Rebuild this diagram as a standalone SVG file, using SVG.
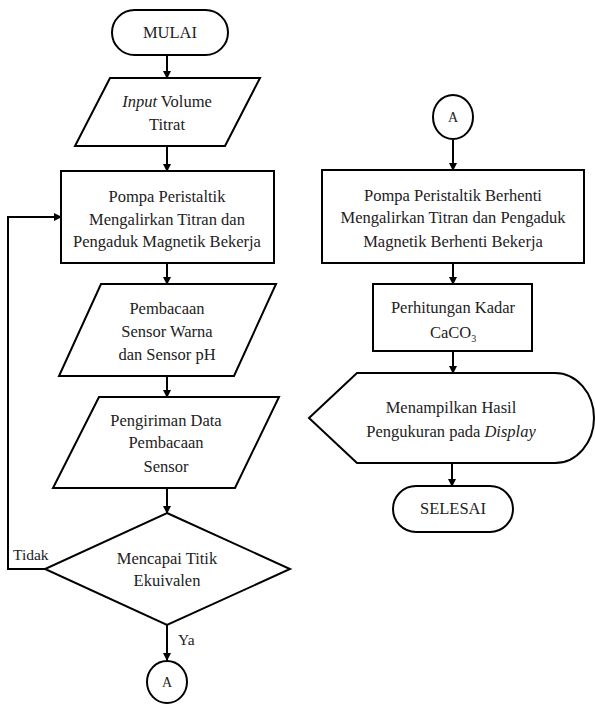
<svg xmlns="http://www.w3.org/2000/svg" width="595" height="705" viewBox="0 0 595 705">
<defs>
<marker id="ah" markerWidth="8" markerHeight="8" refX="7" refY="4" orient="auto" markerUnits="userSpaceOnUse">
<path d="M0,0 L8,4 L0,8 Z" fill="#000"/>
</marker>
</defs>
<rect width="595" height="705" fill="#fff"/>
<g id="connectors" fill="none" stroke="#000" stroke-width="2">
<line x1="167" y1="55" x2="167" y2="78" marker-end="url(#ah)"/>
<line x1="167" y1="146" x2="167" y2="171" marker-end="url(#ah)"/>
<line x1="167" y1="263" x2="167" y2="284" marker-end="url(#ah)"/>
<line x1="167" y1="376" x2="167" y2="397" marker-end="url(#ah)"/>
<line x1="167" y1="488" x2="167" y2="513" marker-end="url(#ah)"/>
<line x1="167" y1="625" x2="167" y2="660" marker-end="url(#ah)"/>
<polyline points="45,569 8,569 8,217 61,217" marker-end="url(#ah)"/>
<line x1="453" y1="140" x2="453" y2="170" marker-end="url(#ah)"/>
<line x1="453" y1="263" x2="453" y2="284" marker-end="url(#ah)"/>
<line x1="453" y1="351" x2="453" y2="373" marker-end="url(#ah)"/>
<line x1="452" y1="463" x2="452" y2="486" marker-end="url(#ah)"/>
</g>
<g id="labels">
<text font-family="Liberation Serif" font-size="15.5" fill="#222" x="13" y="560">Tidak</text>
<text font-family="Liberation Serif" font-size="15.5" fill="#222" x="178" y="645">Ya</text>
</g>
<g id="mulai">
<rect fill="#fff" stroke="#000" stroke-width="2" x="112" y="10" width="116" height="45" rx="22.5"/>
<text font-family="Liberation Serif" font-size="16.5" fill="#222" text-anchor="middle" x="170" y="38">MULAI</text>
</g>
<g id="input">
<polygon fill="#fff" stroke="#000" stroke-width="2" points="110,78 260,78 225,146 75,146"/>
<text font-family="Liberation Serif" font-size="16.5" fill="#222" text-anchor="middle" x="167" y="107"><tspan font-style="italic">Input</tspan> Volume</text>
<text font-family="Liberation Serif" font-size="16.5" fill="#222" text-anchor="middle" x="167" y="130">Titrat</text>
</g>
<g id="pompa">
<rect fill="#fff" stroke="#000" stroke-width="2" x="61" y="171" width="213" height="92"/>
<text font-family="Liberation Serif" font-size="16.5" fill="#222" text-anchor="middle" x="167" y="202">Pompa Peristaltik</text>
<text font-family="Liberation Serif" font-size="16.5" fill="#222" text-anchor="middle" x="167" y="225">Mengalirkan Titran dan</text>
<text font-family="Liberation Serif" font-size="16.5" fill="#222" text-anchor="middle" x="167" y="247">Pengaduk Magnetik Bekerja</text>
</g>
<g id="baca">
<polygon fill="#fff" stroke="#000" stroke-width="2" points="101,284 276,284 234,376 59,376"/>
<text font-family="Liberation Serif" font-size="16.5" fill="#222" text-anchor="middle" x="167" y="314">Pembacaan</text>
<text font-family="Liberation Serif" font-size="16.5" fill="#222" text-anchor="middle" x="167" y="337">Sensor Warna</text>
<text font-family="Liberation Serif" font-size="16.5" fill="#222" text-anchor="middle" x="167" y="360">dan Sensor pH</text>
</g>
<g id="kirim">
<polygon fill="#fff" stroke="#000" stroke-width="2" points="99,397 279,397 235,488 53,488"/>
<text font-family="Liberation Serif" font-size="16.5" fill="#222" text-anchor="middle" x="166" y="426">Pengiriman Data</text>
<text font-family="Liberation Serif" font-size="16.5" fill="#222" text-anchor="middle" x="166" y="448">Pembacaan</text>
<text font-family="Liberation Serif" font-size="16.5" fill="#222" text-anchor="middle" x="166" y="472">Sensor</text>
</g>
<g id="keputusan">
<polygon fill="#fff" stroke="#000" stroke-width="2" points="167,513 290,569 167,625 45,569"/>
<text font-family="Liberation Serif" font-size="16.5" fill="#222" text-anchor="middle" x="167" y="564">Mencapai Titik</text>
<text font-family="Liberation Serif" font-size="16.5" fill="#222" text-anchor="middle" x="167" y="586">Ekuivalen</text>
</g>
<g id="a1">
<ellipse fill="#fff" stroke="#000" stroke-width="2" cx="167" cy="682" rx="20" ry="21"/>
<text font-family="Liberation Serif" font-size="14" fill="#222" text-anchor="middle" x="167" y="687">A</text>
</g>
<g id="a2">
<ellipse fill="#fff" stroke="#000" stroke-width="2" cx="453" cy="117" rx="20" ry="22"/>
<text font-family="Liberation Serif" font-size="14" fill="#222" text-anchor="middle" x="453" y="122">A</text>
</g>
<g id="berhenti">
<rect fill="#fff" stroke="#000" stroke-width="2" x="322" y="170" width="262" height="93"/>
<text font-family="Liberation Serif" font-size="16.5" fill="#222" text-anchor="middle" x="453" y="201">Pompa Peristaltik Berhenti</text>
<text font-family="Liberation Serif" font-size="16.5" fill="#222" text-anchor="middle" x="453" y="223">Mengalirkan Titran dan Pengaduk</text>
<text font-family="Liberation Serif" font-size="16.5" fill="#222" text-anchor="middle" x="453" y="247">Magnetik Berhenti Bekerja</text>
</g>
<g id="hitung">
<rect fill="#fff" stroke="#000" stroke-width="2" x="373" y="284" width="159" height="67"/>
<text font-family="Liberation Serif" font-size="16.5" fill="#222" text-anchor="middle" x="453" y="313">Perhitungan Kadar</text>
<text font-family="Liberation Serif" font-size="16.5" fill="#222" text-anchor="middle" x="453" y="338">CaCO<tspan font-size="10" dy="4">3</tspan></text>
</g>
<g id="display">
<path fill="#fff" stroke="#000" stroke-width="2" d="M357,373 L555,373 A39,45 0 0 1 555,463 L357,463 L309,418 Z"/>
<text font-family="Liberation Serif" font-size="16.5" fill="#222" text-anchor="middle" x="451" y="413">Menampilkan Hasil</text>
<text font-family="Liberation Serif" font-size="16.5" fill="#222" text-anchor="middle" x="451" y="437">Pengukuran pada <tspan font-style="italic">Display</tspan></text>
</g>
<g id="selesai">
<rect fill="#fff" stroke="#000" stroke-width="2" x="393" y="486" width="120" height="46" rx="23"/>
<text font-family="Liberation Serif" font-size="16.5" fill="#222" text-anchor="middle" x="453" y="514">SELESAI</text>
</g>
</svg>
